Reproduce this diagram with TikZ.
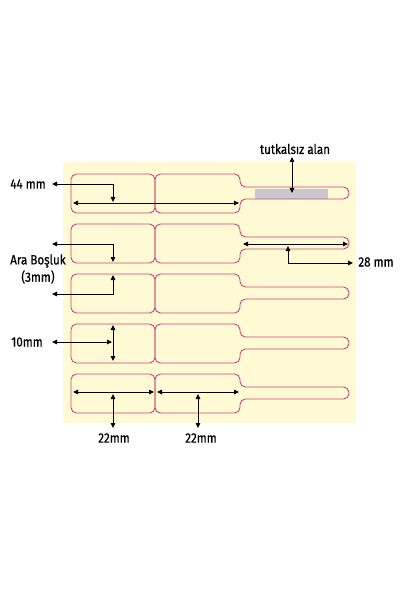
\documentclass[tikz,border=0pt]{standalone}
\usepackage{fontspec}
\setmainfont{Fira Sans}[FakeStretch=0.86,FakeBold=0.6]
\usetikzlibrary{arrows.meta}
\definecolor{cream}{HTML}{FFF9D4}
\definecolor{tagred}{HTML}{C8487A}
\definecolor{perfblue}{HTML}{8FB3C4}
\definecolor{glue}{HTML}{C9C8CE}
\tikzset{
  tagline/.style={draw=tagred, line width=0.9pt, rounded corners=5.5},
  perf/.style={draw=perfblue, line width=0.9pt},
  dim/.style={line width=0.9pt, {Triangle[length=5pt,width=4.5pt]}-{Triangle[length=5pt,width=4.5pt]}},
  lbl/.style={font=\fontsize{13.5}{15}\selectfont, inner sep=0pt, text=black}
}
\newcommand\tagrow[1]{%
  \draw[tagline] (71,#1) rectangle (155,#1+39);
  \draw[tagline] (155,#1) -- (240,#1) -- (240,#1+13) -- (349,#1+13) -- (349,#1+25) -- (240,#1+25) -- (240,#1+39) -- (155,#1+39) -- cycle;
  \draw[perf] (155,#1+5) -- (155,#1+34);
}
\begin{document}
\begin{tikzpicture}[x=1pt,y=-1pt]
\useasboundingbox (0,0) rectangle (401,601);
\fill[cream] (63,162) rectangle (356,423);
\fill[glue] (255,189) rectangle (328,199);
\tagrow{174}
\tagrow{224}
\tagrow{274}
\tagrow{324}
\tagrow{374}

% texts
\node[lbl] (t44) at (28,184) {44 mm};
\node[lbl] (tara) at (38,261) {Ara Boşluk};
\node[lbl] (t3) at (38,277) {(3mm)};
\node[lbl] (t10) at (27,342) {10mm};
\node[lbl] (t22a) at (114,438) {22mm};
\node[lbl] (t22b) at (201,438) {22mm};
\node[lbl] (t28) at (376,262) {28 mm};
\node[lbl] (ttut) at (295,149) {tutkalsız alan};

% coordinates
\coordinate (a1) at (73,203); \coordinate (a2) at (239,203);
\coordinate (b1) at (52,184); \coordinate (b2) at (113,184); \coordinate (b3) at (113,202);
\coordinate (c1) at (52,244); \coordinate (c2) at (113,244); \coordinate (c3) at (113,262);
\coordinate (d1) at (113,275); \coordinate (d2) at (113,294); \coordinate (d3) at (52,294);
\coordinate (e1) at (52,342); \coordinate (e2) at (112,342);
\coordinate (f1) at (113,325); \coordinate (f2) at (113,361);
\coordinate (g1) at (73,392); \coordinate (g2) at (154,392);
\coordinate (h1) at (157,392); \coordinate (h2) at (239,392);
\coordinate (i1) at (113,394); \coordinate (i2) at (113,428);
\coordinate (j1) at (198,394); \coordinate (j2) at (198,428);
\coordinate (k1) at (243,244); \coordinate (k2) at (348,244);
\coordinate (l1) at (288,246); \coordinate (l2) at (288,263); \coordinate (l3) at (353,263);
\coordinate (m1) at (292,157); \coordinate (m2) at (292,193);

\draw[dim] (a1) -- (a2);
\draw[dim] (b1) -- (b2) -- (b3);
\draw[dim] (c1) -- (c2) -- (c3);
\draw[dim] (d1) -- (d2) -- (d3);
\draw[dim] (e1) -- (e2);
\draw[dim] (f1) -- (f2);
\draw[dim] (g1) -- (g2);
\draw[dim] (h1) -- (h2);
\draw[dim] (i1) -- (i2);
\draw[dim] (j1) -- (j2);
\draw[dim] (k1) -- (k2);
\draw[dim] (l1) -- (l2) -- (l3);
\draw[dim] (m1) -- (m2);
\end{tikzpicture}
\end{document}
